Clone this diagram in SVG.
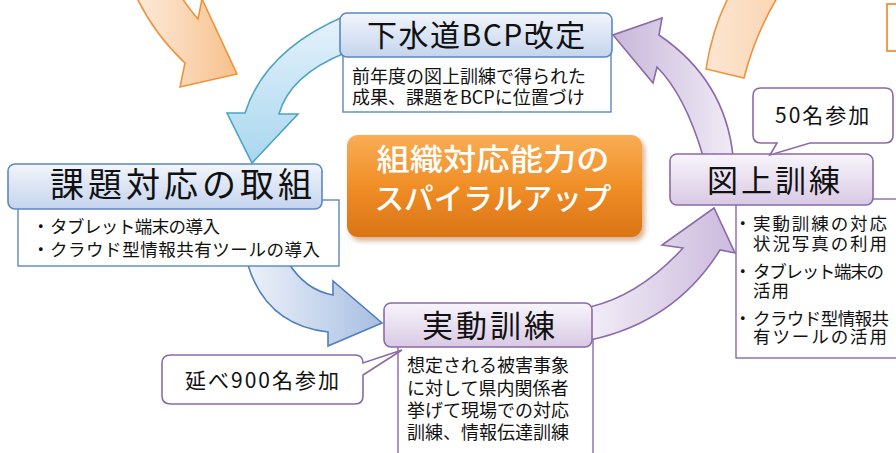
<svg xmlns="http://www.w3.org/2000/svg" width="896" height="453" viewBox="0 0 896 453">
<defs>
<linearGradient id="gOrA" x1="0" y1="0" x2="1" y2="0"><stop offset="0" stop-color="#fdeadb"/><stop offset="1" stop-color="#f6c18b"/></linearGradient>
<linearGradient id="gOrB" x1="0" y1="0" x2="1" y2="0"><stop offset="0" stop-color="#fce6d2"/><stop offset="1" stop-color="#fad6b4"/></linearGradient>
<linearGradient id="gAqua" x1="0" y1="0" x2="0" y2="1"><stop offset="0" stop-color="#e6f2fb"/><stop offset="1" stop-color="#a8d7ef"/></linearGradient>
<linearGradient id="gBlue" x1="0" y1="0" x2="1" y2="0"><stop offset="0" stop-color="#edf1f9"/><stop offset="1" stop-color="#a7bfe1"/></linearGradient>
<linearGradient id="gPurA" x1="0" y1="0" x2="1" y2="0"><stop offset="0" stop-color="#c8b7db"/><stop offset="1" stop-color="#f0ebf5"/></linearGradient>
<linearGradient id="gPurB" x1="1" y1="0" x2="0" y2="0"><stop offset="0" stop-color="#cbbadd"/><stop offset="1" stop-color="#f1ecf6"/></linearGradient>
<linearGradient id="gTB" x1="0" y1="0" x2="0" y2="1"><stop offset="0" stop-color="#f2f5fb"/><stop offset="1" stop-color="#c4d4ed"/></linearGradient>
<linearGradient id="gTP" x1="0" y1="0" x2="0" y2="1"><stop offset="0" stop-color="#f8f5fb"/><stop offset="1" stop-color="#d8c9e4"/></linearGradient>
<linearGradient id="gOrg" x1="0" y1="0" x2="0" y2="1"><stop offset="0" stop-color="#f9ad55"/><stop offset="0.5" stop-color="#f08e26"/><stop offset="1" stop-color="#da7416"/></linearGradient>
<filter id="sh" x="-10%" y="-10%" width="130%" height="140%"><feGaussianBlur stdDeviation="2.5"/></filter>
</defs>
<style>
text{font-family:"Noto Sans CJK JP","Noto Sans",sans-serif;fill:#111}
.title{font-size:31px}
.sub{font-size:18px}
.sub2{font-size:17.5px}
.call{font-size:21px;letter-spacing:2px}
.bT{fill:url(#gTB);stroke:#5b87c2;stroke-width:1.6}
.pT{fill:url(#gTP);stroke:#8a6aa9;stroke-width:1.6}
.bS{fill:#fff;stroke:#5b87c2;stroke-width:1.4}
.pS{fill:#fff;stroke:#8a6aa9;stroke-width:1.4}
.pC{fill:#fff;stroke:#8a6aa9;stroke-width:1.6}
</style>

<g id="connectors">
  <path d="M137,-2 Q155,35 185,63 L180,87 L237,74 L202,-1 L198,19 Q190,10 182,-2 Z" fill="url(#gOrA)" stroke="#ef933b" stroke-width="1.6"/>
  <path d="M706,69 Q712,30 728,-2 L777,-2 Q755,35 744,78 Z" fill="url(#gOrB)" stroke="#ef933b" stroke-width="1.6"/>
  <path d="M345,16 Q265,50 245,113 L227,113 L252,163 L298,114 L279,114 Q290,75 345,53 Z" fill="url(#gAqua)" stroke="#4ea3c2" stroke-width="1.6"/>
  <path d="M247,262 Q265,325 328,332 L328,346 L382,323 L333,281 L333,295 Q305,290 288,262 Z" fill="url(#gBlue)" stroke="#4f7fbd" stroke-width="1.6"/>
  <path d="M590,307 Q640,295 683,248 L662,245 L714,208 L735,253 L720,250 Q675,322 590,340 Z" fill="url(#gPurB)" stroke="#8a6aa9" stroke-width="1.6"/>
  <path d="M733,156 Q725,80 659,35 L662,18 L613,35 L653,83 L657,67 Q685,95 703,156 Z" fill="url(#gPurA)" stroke="#8a6aa9" stroke-width="1.6"/>
  <rect x="887" y="4" width="20" height="47" fill="#fff" stroke="#ef933b" stroke-width="1.8"/>
</g>

<g id="node-center">
  <rect x="350" y="139" width="295" height="102" rx="11" fill="#a85a14" opacity="0.45" filter="url(#sh)"/>
  <rect x="347" y="135" width="295" height="102" rx="11" fill="url(#gOrg)"/>
  <text x="493" y="170" text-anchor="middle" style="font-size:30px;fill:#fff;font-weight:500" textLength="233" lengthAdjust="spacingAndGlyphs">組織対応能力の</text>
  <text x="493" y="209" text-anchor="middle" style="font-size:30px;fill:#fff;font-weight:500" textLength="237" lengthAdjust="spacingAndGlyphs">スパイラルアップ</text>
</g>

<g id="node-bcp">
  <rect x="343" y="50" width="268" height="62" class="bS"/>
  <rect x="340" y="13" width="272" height="44" rx="7" class="bT"/>
  <text x="367" y="46" style="font-size:30px;letter-spacing:1.5px">下水道BCP改定</text>
  <text x="352" y="83" class="sub">前年度の図上訓練で得られた</text>
  <text x="352" y="104" class="sub">成果、課題をBCPに位置づけ</text>
</g>

<g id="node-kadai">
  <rect x="18" y="200" width="321" height="66" class="bS"/>
  <rect x="8" y="164" width="314" height="45" rx="7" class="bT"/>
  <text x="50" y="197" style="font-size:34px;letter-spacing:4px">課題対応の取組</text>
  <text y="233" class="sub2"><tspan x="32">・</tspan><tspan x="50" textLength="170">タブレット端末の導入</tspan></text>
  <text y="256" class="sub2"><tspan x="32">・</tspan><tspan x="50" textLength="270">クラウド型情報共有ツールの導入</tspan></text>
</g>

<g id="node-jitsudo">
  <rect x="398" y="340" width="195" height="120" class="pS"/>
  <rect x="384" y="303" width="208" height="44" rx="7" class="pT"/>
  <text x="422" y="337" class="title" style="letter-spacing:3px">実動訓練</text>
  <text x="407" y="372" class="sub">想定される被害事象</text>
  <text x="407" y="395" class="sub">に対して県内関係者</text>
  <text x="407" y="417" class="sub">挙げて現場での対応</text>
  <text x="407" y="439" class="sub">訓練、情報伝達訓練</text>
</g>

<g id="node-zujo">
  <rect x="736" y="199" width="180" height="159" class="pS"/>
  <rect x="670" y="154" width="203" height="51" rx="7" class="pT"/>
  <text x="707" y="192" class="title" style="letter-spacing:3px">図上訓練</text>
  <text class="sub2"><tspan x="734" y="230">・</tspan><tspan x="753" y="230" textLength="134">実動訓練の対応</tspan><tspan x="753" y="250" textLength="134">状況写真の利用</tspan></text>
  <text class="sub2"><tspan x="734" y="278">・</tspan><tspan x="753" y="278" textLength="131">タブレット端末の</tspan><tspan x="753" y="297" textLength="36">活用</tspan></text>
  <text class="sub2"><tspan x="734" y="325">・</tspan><tspan x="753" y="325" textLength="136">クラウド型情報共</tspan><tspan x="753" y="343" textLength="134">有ツールの活用</tspan></text>
</g>

<g id="callout-50">
  <path d="M761,88 H885 Q893,88 893,96 V135 Q893,143 885,143 H810 L770,155 L777,143 H761 Q753,143 753,135 V96 Q753,88 761,88 Z" class="pC"/>
  <text x="775" y="123" class="call">50名参加</text>
</g>

<g id="callout-900">
  <path d="M171,355 H355 Q363,355 363,363 L402,350 L363,375 V396 Q363,404 355,404 H171 Q162,404 162,396 V363 Q162,355 171,355 Z" class="pC"/>
  <text x="185" y="388" class="call">延べ900名参加</text>
</g>
</svg>
